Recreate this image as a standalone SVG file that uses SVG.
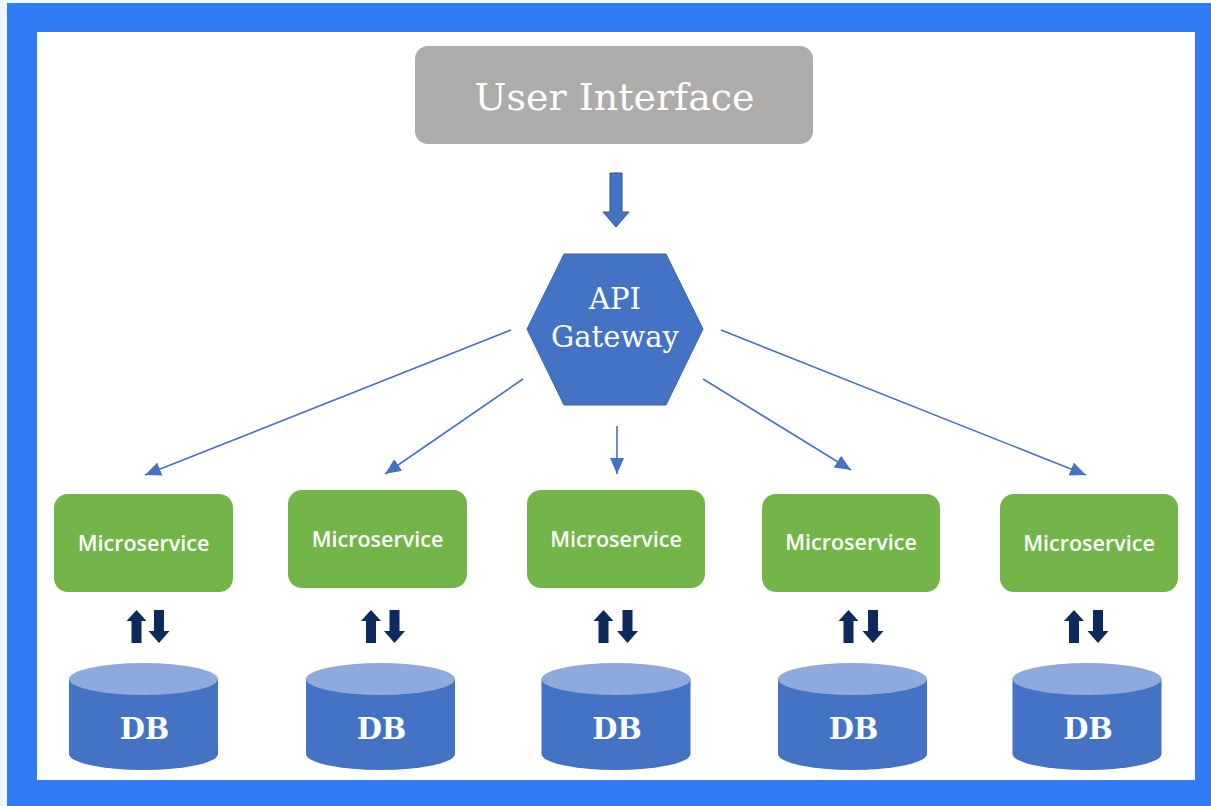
<svg xmlns="http://www.w3.org/2000/svg" width="1211" height="806" viewBox="0 0 1211 806">
  <style>
    .ms rect { fill: #74b549; }
    .ms text { fill: #ffffff; font-family: "Open Sans", "Liberation Sans", sans-serif; font-weight: 600; font-size: 21.5px; text-anchor: middle; }
    .db text { fill: #ffffff; font-family: "DejaVu Serif", "Liberation Serif", serif; font-weight: bold; font-size: 29px; text-anchor: middle; }
    .conn { stroke: #4472c4; stroke-width: 1.6; fill: none; marker-end: url(#ah); }
    .bidi { fill: #0c2a5e; }
    .serif { font-family: "DejaVu Serif", "Liberation Serif", serif; fill: #ffffff; text-anchor: middle; }
  </style>
  <defs>
    <marker id="ah" markerUnits="userSpaceOnUse" markerWidth="18" markerHeight="14" refX="16" refY="7" orient="auto">
      <path d="M0,0 L16,7 L0,14 Z" fill="#4472c4"/>
    </marker>
    <path id="up" d="M-5,33 L-5,11 L-10,11 L0,0 L10,11 L5,11 L5,33 Z"/>
    <path id="down" d="M-5,0 L5,0 L5,21 L10.5,21 L0,33 L-10.5,21 L-5,21 Z"/>
    <g id="cyl">
      <path fill="#4472c4" d="M-74.5,16 L-74.5,91 A74.5,16 0 0 0 74.5,91 L74.5,16 Z"/>
      <ellipse fill="#8eaadc" cx="0" cy="16" rx="74.5" ry="16"/>
    </g>
  </defs>

  <rect x="0" y="0" width="1211" height="806" fill="#eef6ff"/>
  <rect x="7" y="3" width="1204" height="803" fill="#317bf4"/>
  <rect x="37" y="32" width="1158" height="748" fill="#ffffff"/>

  <g id="user-interface">
    <rect x="415" y="46" width="398" height="98" rx="13" fill="#aeabab"/>
    <text class="serif" x="614.5" y="110" font-size="38">User Interface</text>
  </g>

  <g id="api-gateway">
    <polygon points="564,254 666,254 703,329 666,405 564,405 527,329" fill="#4472c4" stroke="#3b65b0" stroke-width="1"/>
    <text class="serif" x="615" y="309" font-size="29">API</text>
    <text class="serif" x="615" y="347" font-size="29">Gateway</text>
  </g>

  <g id="connectors">
    <path d="M610,173 L622,173 L622,212 L629,212 L616,227 L603,212 L610,212 Z" fill="#4472c4" stroke="#2f528f" stroke-width="1"/>
    <line class="conn" x1="511" y1="330" x2="145" y2="475"/>
    <line class="conn" x1="523" y1="379" x2="385" y2="474"/>
    <line class="conn" x1="617" y1="426" x2="617" y2="474"/>
    <line class="conn" x1="703" y1="379" x2="851" y2="470"/>
    <line class="conn" x1="721" y1="330" x2="1086" y2="475"/>
    <g class="bidi">
      <use href="#up" x="136.5" y="610"/><use href="#down" x="159" y="610"/>
      <use href="#up" x="371" y="610"/><use href="#down" x="394.5" y="610"/>
      <use href="#up" x="603.5" y="610"/><use href="#down" x="627.5" y="610"/>
      <use href="#up" x="848.5" y="610"/><use href="#down" x="873" y="610"/>
      <use href="#up" x="1074" y="610"/><use href="#down" x="1098" y="610"/>
    </g>
  </g>

  <g id="ms1" class="ms"><rect x="54" y="494" width="179" height="98" rx="14"/><text x="143.5" y="551">Microservice</text></g>
  <g id="ms2" class="ms"><rect x="288" y="490" width="179" height="98" rx="14"/><text x="377.5" y="547">Microservice</text></g>
  <g id="ms3" class="ms"><rect x="527" y="490" width="178" height="98" rx="14"/><text x="616" y="547">Microservice</text></g>
  <g id="ms4" class="ms"><rect x="762" y="494" width="178" height="98" rx="14"/><text x="851" y="550">Microservice</text></g>
  <g id="ms5" class="ms"><rect x="1000" y="494" width="178" height="98" rx="14"/><text x="1089" y="551">Microservice</text></g>

  <g id="db1" class="db"><use href="#cyl" x="143.5" y="663"/><text x="144.5" y="739">DB</text></g>
  <g id="db2" class="db"><use href="#cyl" x="380.5" y="663"/><text x="381.5" y="739">DB</text></g>
  <g id="db3" class="db"><use href="#cyl" x="616" y="663"/><text x="617" y="739">DB</text></g>
  <g id="db4" class="db"><use href="#cyl" x="852.5" y="663"/><text x="853.5" y="739">DB</text></g>
  <g id="db5" class="db"><use href="#cyl" x="1087" y="663"/><text x="1088" y="739">DB</text></g>
</svg>
